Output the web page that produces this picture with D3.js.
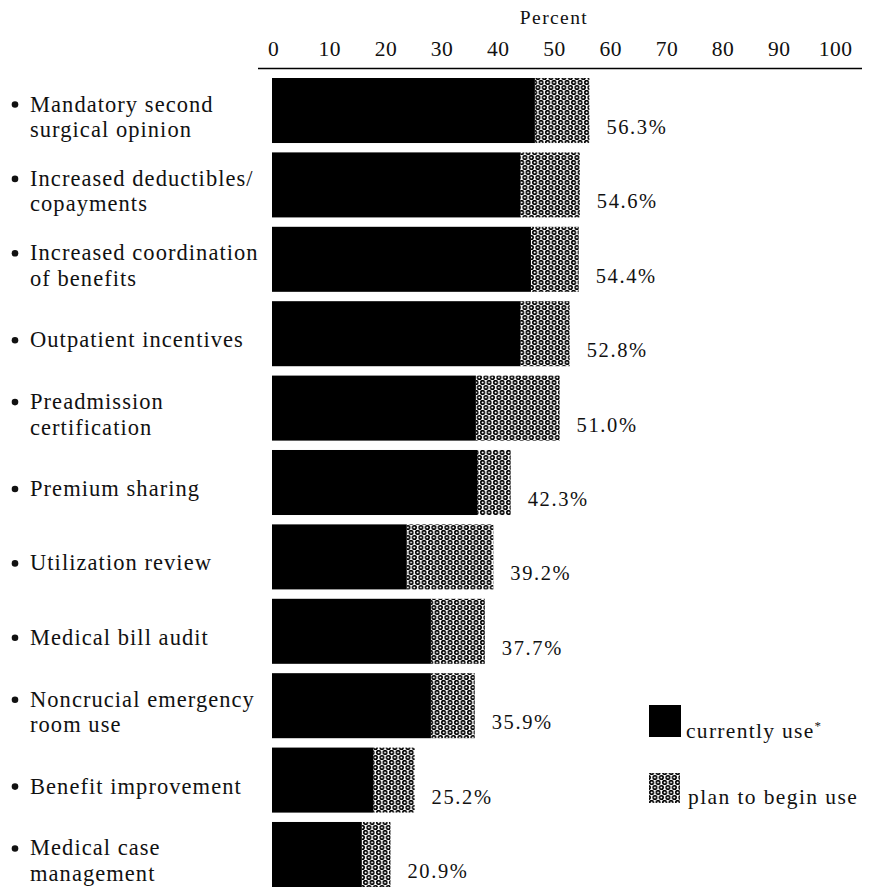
<!DOCTYPE html>
<html>
<head>
<meta charset="utf-8">
<script src="https://cdn.jsdelivr.net/npm/d3@7"></script>
<style>
  html, body { margin: 0; padding: 0; background: #fff; }
  svg { display: block; }
  text { font-family: "Liberation Serif", "DejaVu Serif", serif; fill: #111; }
</style>
</head>
<body>
<svg id="chart" width="873" height="887"></svg>
<script>
// Cost-containment measures (each label split into its printed lines)
const categories = [
  ["Mandatory second", "surgical opinion"],
  ["Increased deductibles/", "copayments"],
  ["Increased coordination", "of benefits"],
  ["Outpatient incentives"],
  ["Preadmission", "certification"],
  ["Premium sharing"],
  ["Utilization review"],
  ["Medical bill audit"],
  ["Noncrucial emergency", "room use"],
  ["Benefit improvement"],
  ["Medical case", "management"]
];
// Percent of employers that currently use the measure
const currentUse = [46.6, 44.0, 45.9, 44.0, 36.1, 36.3, 23.8, 28.1, 28.1, 17.8, 15.8];
// Percent that currently use it or plan to begin use (printed total)
const totalUse = [56.3, 54.6, 54.4, 52.8, 51.0, 42.3, 39.2, 37.7, 35.9, 25.2, 20.9];
const tickValues = [0, 10, 20, 30, 40, 50, 60, 70, 80, 90, 100];
const legendLabels = ["currently use", "plan to begin use"];

const svg = d3.select("#chart");

// Open-ring dot screen used for the "plan to begin use" segments
const defs = svg.append("defs");
const pat = defs.append("pattern")
  .attr("id", "rings")
  .attr("patternUnits", "userSpaceOnUse")
  .attr("width", 6.5).attr("height", 10);
pat.append("rect").attr("width", 6.5).attr("height", 10).attr("fill", "#fff");
[[1.6, 2.5], [4.85, 7.5], [8.1, 2.5], [-1.65, 7.5]].forEach(([cx, cy]) => {
  pat.append("circle").attr("cx", cx).attr("cy", cy).attr("r", 1.8)
    .attr("fill", "none").attr("stroke", "#000").attr("stroke-width", 1.6);
});

const x = d3.scaleLinear().domain([0, 100]).range([273, 835]);
const y = d3.scaleBand()
  .domain(d3.range(categories.length))
  .range([78, 887])
  .paddingInner(0.126)
  .paddingOuter(0);

// Axis title
svg.append("text")
  .attr("x", x(50)).attr("y", 24)
  .attr("text-anchor", "middle")
  .style("font-size", "19.5px")
  .style("letter-spacing", "1.4px")
  .text("Percent");

// Top axis: tick labels only, rule drawn separately
const axis = svg.append("g")
  .attr("transform", "translate(0,56)")
  .call(d3.axisTop(x).tickValues(tickValues).tickSize(0).tickPadding(0).tickFormat(d3.format("d")));
axis.select(".domain").remove();
axis.selectAll("text")
  .style("font-family", "'Liberation Serif', serif")
  .style("font-size", "21.5px")
  .style("letter-spacing", "0.5px")
  .attr("fill", "#111");

svg.append("line")
  .attr("x1", 258).attr("x2", 862)
  .attr("y1", 68.5).attr("y2", 68.5)
  .attr("stroke", "#000").attr("stroke-width", 1.6);

const rows = svg.append("g").selectAll("g")
  .data(categories.map((c, i) => ({ lines: c, cur: currentUse[i], tot: totalUse[i], i })))
  .join("g");

// Hatched segment (plan to begin use) from current to total
rows.append("rect")
  .attr("x", d => x(d.cur))
  .attr("y", d => y(d.i))
  .attr("width", d => x(d.tot) - x(d.cur))
  .attr("height", y.bandwidth())
  .attr("fill", "url(#rings)");

// Solid segment (currently use)
rows.append("rect")
  .attr("x", x(0) - 1)
  .attr("y", d => y(d.i))
  .attr("width", d => x(d.cur) - x(0) + 1)
  .attr("height", y.bandwidth())
  .attr("fill", "#000");

// Value labels
rows.append("text")
  .attr("x", d => x(d.tot) + 17)
  .attr("y", d => y(d.i) + y.bandwidth() / 2 + 23.5)
  .style("font-size", "20.5px")
  .style("letter-spacing", "1.6px")
  .text(d => d.tot.toFixed(1) + "%");

// Category labels with bullets
const lab = rows.append("g")
  .attr("transform", d => {
    const c = y(d.i) + y.bandwidth() / 2;
    return `translate(0,${d.lines.length === 1 ? c + 13.5 : c + 1})`;
  });
lab.append("circle")
  .attr("cx", 15).attr("cy", -7).attr("r", 3.3).attr("fill", "#111");
lab.selectAll("text.line")
  .data(d => d.lines)
  .join("text")
  .attr("class", "line")
  .attr("x", 30)
  .attr("y", (t, k) => k * 25.5)
  .style("font-size", "22.5px")
  .style("letter-spacing", "1.05px")
  .text(t => t);

// Legend
const legend = svg.append("g");
legend.append("rect")
  .attr("x", 649).attr("y", 705).attr("width", 32).attr("height", 32)
  .attr("fill", "#000");
const t1 = legend.append("text")
  .attr("x", 686).attr("y", 738)
  .style("font-size", "21.5px")
  .style("letter-spacing", "1.3px")
  .text(legendLabels[0]);
t1.append("tspan").attr("dy", -8).style("font-size", "13px").text("*");

legend.append("rect")
  .attr("x", 649).attr("y", 773).attr("width", 31).attr("height", 30)
  .attr("fill", "url(#rings)");
legend.append("text")
  .attr("x", 688).attr("y", 804)
  .style("font-size", "21.5px")
  .style("letter-spacing", "1.4px")
  .text(legendLabels[1]);
</script>
</body>
</html>
